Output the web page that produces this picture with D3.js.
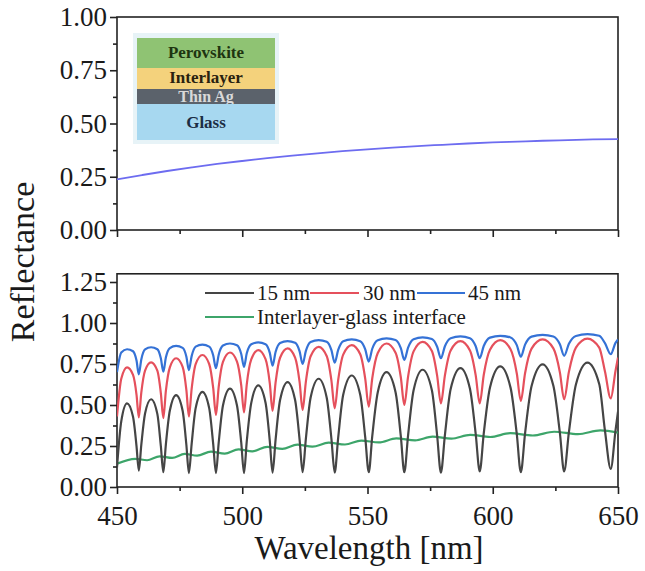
<!DOCTYPE html>
<html>
<head>
<meta charset="utf-8">
<script src="https://cdn.jsdelivr.net/npm/d3@7"></script>
<style>
  html, body { margin: 0; padding: 0; background: #ffffff; }
  svg { display: block; }
</style>
</head>
<body>
<svg id="chart" width="645" height="571"></svg>
<script>
// ---- Upper panel: reflectance of the Ag-based stack ----
const stackWavelength = [450, 460, 470, 480, 490, 500, 510, 520, 530, 540, 550, 560, 570, 580, 590, 600, 610, 620, 630, 640, 650];
const stackReflectance = [0.238, 0.258, 0.277, 0.294, 0.310, 0.324, 0.337, 0.349, 0.360, 0.370, 0.379, 0.387, 0.394, 0.400, 0.406, 0.411, 0.415, 0.419, 0.422, 0.425, 0.427];

// ---- Lower panel: reflectance for three interlayer thicknesses ----
const wavelength = [
  450, 451.7, 454.0, 456.4, 457.8,
  458.7, 459.7, 461.2, 463.6, 466.1, 467.5,
  468.5, 469.5, 471.1, 473.6, 476.2, 477.7,
  478.7, 479.8, 481.4, 484.1, 486.8, 488.4,
  489.5, 490.6, 492.3, 495.1, 497.9, 499.6,
  500.7, 501.8, 503.6, 506.4, 509.3, 511.0,
  512.1, 513.3, 515.1, 518.1, 521.1, 522.9,
  524.1, 525.4, 527.3, 530.5, 533.7, 535.6,
  536.9, 538.3, 540.3, 543.7, 547.1, 549.1,
  550.5, 551.9, 554.1, 557.6, 561.2, 563.3,
  564.7, 566.2, 568.4, 572.0, 575.7, 577.8,
  579.3, 580.9, 583.2, 587.1, 590.9, 593.2,
  594.8, 596.4, 598.9, 603.0, 607.1, 609.6,
  611.2, 612.9, 615.5, 619.9, 624.2, 626.8,
  628.5, 630.4, 633.2, 637.8, 642.5, 644.8,
  647.1, 649.0, 650.0
];
const r15nm = [
  0.120, 0.400, 0.510, 0.428, 0.248,
  0.100, 0.257, 0.448, 0.535, 0.446, 0.250,
  0.090, 0.259, 0.466, 0.560, 0.465, 0.256,
  0.085, 0.263, 0.481, 0.580, 0.481, 0.263,
  0.085, 0.270, 0.497, 0.600, 0.497, 0.270,
  0.085, 0.278, 0.513, 0.620, 0.514, 0.280,
  0.088, 0.287, 0.530, 0.640, 0.530, 0.288,
  0.090, 0.295, 0.546, 0.660, 0.546, 0.294,
  0.088, 0.301, 0.562, 0.680, 0.562, 0.302,
  0.090, 0.310, 0.578, 0.700, 0.578, 0.310,
  0.090, 0.315, 0.590, 0.715, 0.590, 0.314,
  0.088, 0.317, 0.598, 0.725, 0.599, 0.322,
  0.095, 0.325, 0.607, 0.735, 0.606, 0.322,
  0.090, 0.327, 0.616, 0.748, 0.617, 0.330,
  0.095, 0.334, 0.625, 0.758, 0.628, 0.343,
  0.110, 0.344, 0.460
];
const r30nm = [
  0.430, 0.660, 0.730, 0.684, 0.562,
  0.425, 0.576, 0.710, 0.760, 0.709, 0.573,
  0.420, 0.584, 0.730, 0.785, 0.732, 0.590,
  0.430, 0.599, 0.749, 0.805, 0.750, 0.604,
  0.440, 0.611, 0.763, 0.820, 0.765, 0.619,
  0.455, 0.626, 0.778, 0.835, 0.780, 0.632,
  0.465, 0.636, 0.788, 0.845, 0.789, 0.639,
  0.470, 0.643, 0.797, 0.855, 0.799, 0.649,
  0.480, 0.653, 0.807, 0.865, 0.809, 0.659,
  0.490, 0.663, 0.817, 0.875, 0.819, 0.669,
  0.500, 0.673, 0.827, 0.885, 0.829, 0.679,
  0.510, 0.681, 0.833, 0.890, 0.833, 0.681,
  0.510, 0.683, 0.837, 0.895, 0.840, 0.692,
  0.525, 0.694, 0.844, 0.900, 0.845, 0.699,
  0.535, 0.702, 0.850, 0.905, 0.850, 0.704,
  0.540, 0.707, 0.790
];
const r45nm = [
  0.700, 0.820, 0.840, 0.828, 0.771,
  0.687, 0.778, 0.839, 0.852, 0.840, 0.785,
  0.703, 0.789, 0.847, 0.860, 0.848, 0.794,
  0.713, 0.798, 0.856, 0.868, 0.856, 0.803,
  0.724, 0.807, 0.863, 0.875, 0.864, 0.811,
  0.733, 0.815, 0.870, 0.882, 0.871, 0.818,
  0.740, 0.823, 0.878, 0.890, 0.879, 0.827,
  0.750, 0.830, 0.884, 0.896, 0.885, 0.834,
  0.758, 0.836, 0.889, 0.900, 0.889, 0.839,
  0.765, 0.843, 0.895, 0.906, 0.896, 0.847,
  0.775, 0.850, 0.901, 0.912, 0.902, 0.855,
  0.785, 0.858, 0.907, 0.918, 0.907, 0.858,
  0.785, 0.860, 0.911, 0.922, 0.912, 0.865,
  0.795, 0.868, 0.917, 0.928, 0.918, 0.870,
  0.800, 0.873, 0.921, 0.932, 0.922, 0.877,
  0.810, 0.879, 0.900
];

// Reflection at the interlayer/glass interface alone
const interfaceWavelength = [450, 457.3, 462, 467, 472, 477, 482, 487.5, 493, 498.5, 504, 510, 516, 522, 528, 534.5, 541, 547.5, 554.5, 561.5, 569, 576, 583.5, 591, 599, 607, 616, 624.5, 634, 643, 650];
const interfaceReflectance = [0.142, 0.172, 0.163, 0.187, 0.177, 0.202, 0.191, 0.216, 0.204, 0.230, 0.217, 0.245, 0.232, 0.258, 0.246, 0.270, 0.259, 0.283, 0.272, 0.296, 0.284, 0.307, 0.295, 0.318, 0.305, 0.328, 0.314, 0.337, 0.322, 0.345, 0.332];

const xTicks = [450, 500, 550, 600, 650];
const xMinorTicks = [475, 525, 575, 625];
const topYTicks = [0, 0.25, 0.5, 0.75, 1.0];
const topYMinor = [0.125, 0.375, 0.625, 0.875];
const bottomYTicks = [0, 0.25, 0.5, 0.75, 1.0, 1.25];
const bottomYMinor = [0.125, 0.375, 0.625, 0.875, 1.125];

const seriesNames = ["15 nm", "30 nm", "45 nm", "Interlayer-glass interface"];
const seriesColors = ["#454545", "#e5505c", "#3572d6", "#3da56a"];

const stackLayers = ["Perovskite", "Interlayer", "Thin Ag", "Glass"];
const stackFill = ["#8fc373", "#f4d27c", "#5b626b", "#a7d8f0"];
const stackText = ["#1e3410", "#2a2210", "#d9d9d9", "#1b2d44"];

// ---- Layout ----
const svg = d3.select("#chart");
const left = 117, right = 618;
const x = d3.scaleLinear().domain([450, 650]).range([left, right]);
const yTop = d3.scaleLinear().domain([0, 1]).range([230, 17]);
const yBot = d3.scaleLinear().domain([0, 1.3]).range([487, 273.8]);

const FONT = "Liberation Serif";
const TEXT_COLOR = "#1a1a1a";
const AXIS_COLOR = "#222";

svg.append("defs").append("clipPath").attr("id", "clipBot")
  .append("rect").attr("x", left).attr("y", yBot(1.3)).attr("width", right - left).attr("height", yBot(0) - yBot(1.3));

function styleAxis(g) {
  g.attr("font-family", null).attr("font-size", null);
  g.selectAll(".domain").remove();
  g.selectAll("line").attr("stroke", AXIS_COLOR).attr("stroke-width", 1.6);
  g.selectAll("text").attr("fill", TEXT_COLOR).style("font-family", FONT).style("font-size", "27px");
}

function drawPanel(y, yTicks, yMinor, showXLabels) {
  const y0 = y.range()[0], y1 = y.range()[1];
  const gx = svg.append("g").attr("transform", `translate(0,${y0})`)
    .call(d3.axisBottom(x).tickValues(xTicks).tickSize(7).tickSizeOuter(0).tickPadding(12)
      .tickFormat(showXLabels ? d3.format("d") : () => ""));
  styleAxis(gx);
  const gxm = svg.append("g").attr("transform", `translate(0,${y0})`)
    .call(d3.axisBottom(x).tickValues(xMinorTicks).tickSize(4).tickSizeOuter(0).tickFormat(() => ""));
  styleAxis(gxm);
  const gy = svg.append("g").attr("transform", `translate(${left},0)`)
    .call(d3.axisLeft(y).tickValues(yTicks).tickSize(7).tickSizeOuter(0).tickPadding(3).tickFormat(d3.format(".2f")));
  styleAxis(gy);
  const gym = svg.append("g").attr("transform", `translate(${left},0)`)
    .call(d3.axisLeft(y).tickValues(yMinor).tickSize(4).tickSizeOuter(0).tickFormat(() => ""));
  styleAxis(gym);
  svg.append("rect").attr("x", left).attr("y", y1).attr("width", right - left).attr("height", y0 - y1)
    .attr("fill", "none").attr("stroke", AXIS_COLOR).attr("stroke-width", 1.6);
}

drawPanel(yTop, topYTicks, topYMinor, false);
drawPanel(yBot, bottomYTicks, bottomYMinor, true);

// ---- Upper panel curve ----
svg.append("path")
  .datum(stackWavelength.map((w, i) => [w, stackReflectance[i]]))
  .attr("fill", "none").attr("stroke", "#6d6cf0").attr("stroke-width", 1.8)
  .attr("d", d3.line().x(d => x(d[0])).y(d => yTop(d[1])).curve(d3.curveMonotoneX));

// ---- Layer-stack inset ----
const inset = svg.append("g");
inset.append("rect").attr("x", 133).attr("y", 33).attr("width", 146).attr("height", 111).attr("fill", "#e7f3f7");
const layerTop = [38, 68, 89, 104];
const layerBottom = [68, 89, 104, 140];
const layerTextY = [58, 83, 102, 128];
stackLayers.forEach((name, i) => {
  inset.append("rect").attr("x", 137).attr("y", layerTop[i]).attr("width", 138)
    .attr("height", layerBottom[i] - layerTop[i]).attr("fill", stackFill[i]);
  inset.append("text").attr("x", 206).attr("y", layerTextY[i]).attr("text-anchor", "middle")
    .style("font-family", FONT).style("font-size", i === 2 ? "16px" : "17px").style("font-weight", "bold")
    .style("fill", stackText[i]).text(name);
});

// ---- Lower panel curves ----
const line = d3.line().x(d => x(d[0])).y(d => yBot(d[1])).curve(d3.curveMonotoneX);
const plot = svg.append("g").attr("clip-path", "url(#clipBot)");
const seriesData = [
  wavelength.map((w, i) => [w, r15nm[i]]),
  wavelength.map((w, i) => [w, r30nm[i]]),
  wavelength.map((w, i) => [w, r45nm[i]]),
  interfaceWavelength.map((w, i) => [w, interfaceReflectance[i]])
];
// interface first, then thickest to thinnest so the dark curve sits on top
[3, 2, 1, 0].forEach(k => {
  plot.append("path").datum(seriesData[k])
    .attr("fill", "none").attr("stroke", seriesColors[k]).attr("stroke-width", 2.2)
    .attr("stroke-linejoin", "round").attr("d", line);
});

// ---- Legend ----
const legend = svg.append("g");
const legendText = (sel) => sel.style("font-family", FONT).style("font-size", "21px").style("fill", TEXT_COLOR);
const row1 = [
  { k: 0, x1: 205, x2: 254, tx: 257 },
  { k: 1, x1: 310, x2: 359, tx: 363 },
  { k: 2, x1: 417, x2: 465, tx: 468 }
];
row1.forEach(r => {
  legend.append("line").attr("x1", r.x1).attr("x2", r.x2).attr("y1", 293).attr("y2", 293)
    .attr("stroke", seriesColors[r.k]).attr("stroke-width", 2);
  legend.append("text").attr("x", r.tx).attr("y", 300).call(legendText).text(seriesNames[r.k]);
});
legend.append("line").attr("x1", 205).attr("x2", 254).attr("y1", 317).attr("y2", 317)
  .attr("stroke", seriesColors[3]).attr("stroke-width", 2);
legend.append("text").attr("x", 257).attr("y", 324).call(legendText).text(seriesNames[3]);

// ---- Axis titles ----
svg.append("text").attr("transform", "translate(34,262) rotate(-90)")
  .attr("text-anchor", "middle").style("font-family", FONT).style("font-size", "34px")
  .style("fill", TEXT_COLOR).text("Reflectance");
svg.append("text").attr("x", 369).attr("y", 559)
  .attr("text-anchor", "middle").style("font-family", FONT).style("font-size", "33px")
  .style("fill", TEXT_COLOR).text("Wavelength [nm]");
</script>
</body>
</html>
